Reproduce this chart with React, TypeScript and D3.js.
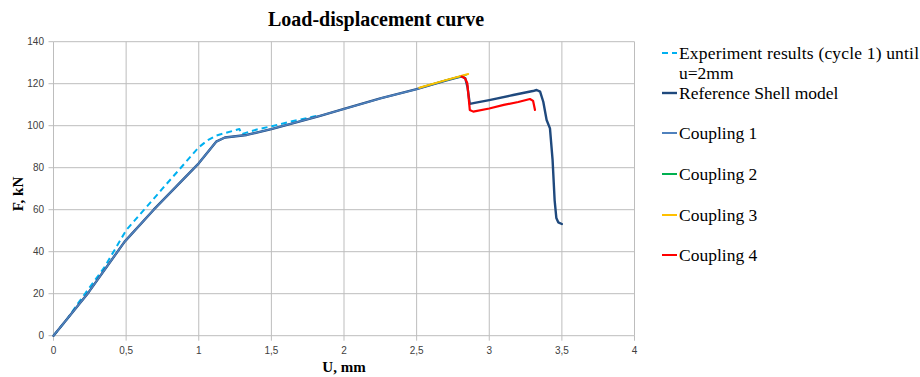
import React from "react";
import * as d3 from "d3";

type P = [number, number];

const xTicks = [0, 0.5, 1, 1.5, 2, 2.5, 3, 3.5, 4];
const xTickLabels = ["0", "0,5", "1", "1,5", "2", "2,5", "3", "3,5", "4"];
const yTicks = [0, 20, 40, 60, 80, 100, 120, 140];

const experiment: P[] = [
  [0, 0], [0.1, 8.5], [0.18, 16.5], [0.35, 32.5], [0.5, 50.2], [0.75, 70], [1.0, 89.7],
  [1.06, 93], [1.12, 95.3], [1.28, 98.4], [1.295, 96], [1.4, 98.2], [1.51, 99.9],
  [1.63, 101.9], [1.82, 104.8],
];

const referenceShell: P[] = [
  [0, 0], [0.24, 20.5], [0.49, 44.8], [0.69, 60], [1.0, 82.1], [1.12, 92.4], [1.18, 94.4],
  [1.33, 95.6], [1.5, 98.4], [1.83, 104.6], [2.0, 108], [2.25, 113], [2.5, 117.4],
  [2.7, 121.5], [2.81, 123.5], [2.835, 122.6], [2.85, 118.5], [2.866, 110.4], [2.9, 110.9],
  [3.0, 112.2], [3.165, 114.6], [3.3, 116.5], [3.326, 117], [3.35, 116.2], [3.372, 111.4],
  [3.395, 102.7], [3.418, 98.7], [3.436, 83.7], [3.45, 64.6], [3.462, 56], [3.475, 54],
  [3.5, 53.2],
];

const coupling1: P[] = [
  [0, 0], [0.24, 20.5], [0.49, 44.8], [0.69, 60], [1.0, 82.1], [1.12, 92.4], [1.18, 94.4],
  [1.33, 95.6], [1.5, 98.4], [1.83, 104.6], [2.0, 108], [2.25, 113], [2.5, 117.4],
  [2.7, 121.5], [2.81, 123.5],
];

const coupling2: P[] = [
  [2.53, 118.3], [2.7, 121.6], [2.84, 124.2],
];

const coupling3: P[] = [
  [2.518, 118.1], [2.7, 121.7], [2.855, 124.6],
];

const coupling4: P[] = [
  [2.81, 123.4], [2.833, 122.6], [2.849, 120.2], [2.866, 107.5], [2.89, 106.7],
  [3.0, 108.2], [3.1, 109.9], [3.2, 111.3], [3.28, 112.7], [3.302, 111.8], [3.315, 107.5],
];

const seriesNames = [
  "Experiment results (cycle 1) until",
  "Reference Shell model",
  "Coupling 1",
  "Coupling 2",
  "Coupling 3",
  "Coupling 4",
];

export default function App() {
  const W = 920, H = 377;
  const x = d3.scaleLinear().domain([0, 4]).range([53.5, 634.5]);
  const y = d3.scaleLinear().domain([0, 140]).range([335.7, 41.7]);
  const line = d3.line<P>().x((d) => x(d[0])).y((d) => y(d[1]));

  const series = [
    { data: experiment, color: "#00B0F0", width: 2, dash: "6,4" },
    { data: referenceShell, color: "#1F497D", width: 2.4, dash: undefined },
    { data: coupling1, color: "#4F81BD", width: 1.6, dash: undefined },
    { data: coupling2, color: "#00B050", width: 1.6, dash: undefined },
    { data: coupling3, color: "#FFC000", width: 2, dash: undefined },
    { data: coupling4, color: "#FF0000", width: 2.2, dash: undefined },
  ];

  const legendY = [53, 93, 133, 174, 215, 255];
  const legendColors = ["#00B0F0", "#1F497D", "#4F81BD", "#00B050", "#FFC000", "#FF0000"];

  const serif = "'Liberation Serif', 'Times New Roman', serif";
  const sans = "'Liberation Sans', Arial, sans-serif";

  return (
    <svg width={W} height={H} style={{ position: "absolute", left: 0, top: 0, background: "#fff" }}>
      <rect width={W} height={H} fill="#fff" />
      <text x={376} y={26} textAnchor="middle" fontFamily={serif} fontWeight="bold" fontSize={20} fill="#000">
        Load-displacement curve
      </text>
      {/* grid */}
      {yTicks.map((t) => (
        <line key={"gy" + t} x1={x(0)} x2={x(4)} y1={y(t)} y2={y(t)} stroke="#BDBDBD" strokeWidth={1} />
      ))}
      {xTicks.map((t) => (
        <line key={"gx" + t} x1={x(t)} x2={x(t)} y1={y(0)} y2={y(140)} stroke="#BDBDBD" strokeWidth={1} />
      ))}
      {/* tick marks */}
      {yTicks.map((t) => (
        <line key={"ty" + t} x1={x(0) - 5} x2={x(0)} y1={y(t)} y2={y(t)} stroke="#BDBDBD" strokeWidth={1} />
      ))}
      {xTicks.map((t) => (
        <line key={"tx" + t} x1={x(t)} x2={x(t)} y1={y(0)} y2={y(0) + 5} stroke="#BDBDBD" strokeWidth={1} />
      ))}
      {yTicks.map((t) => (
        <text key={"ly" + t} x={44} y={y(t)} dy="0.35em" textAnchor="end" fontFamily={sans} fontSize={10} fill="#404040">
          {t}
        </text>
      ))}
      {xTicks.map((t, i) => (
        <text key={"lx" + t} x={x(t)} y={350} dy="0.35em" textAnchor="middle" fontFamily={sans} fontSize={10} fill="#404040">
          {xTickLabels[i]}
        </text>
      ))}
      <text x={344} y={367} dy="0.35em" textAnchor="middle" fontFamily={serif} fontWeight="bold" fontSize={15} fill="#000">
        U, mm
      </text>
      <text transform={`translate(18,194) rotate(-90)`} dy="0.35em" textAnchor="middle" fontFamily={serif} fontWeight="bold" fontSize={15} fill="#000">
        F, kN
      </text>
      {/* series */}
      {series.map((s, i) => (
        <path key={"s" + i} d={line(s.data) || ""} fill="none" stroke={s.color} strokeWidth={s.width}
          strokeDasharray={s.dash} strokeLinejoin="round" strokeLinecap={s.dash ? "butt" : "round"} />
      ))}
      {/* legend */}
      {seriesNames.map((n, i) => (
        <g key={"lg" + i}>
          <line x1={662} x2={677} y1={legendY[i]} y2={legendY[i]} stroke={legendColors[i]}
            strokeWidth={i === 1 ? 2.4 : 2} strokeDasharray={i === 0 ? "6,4" : undefined} />
          <text x={679} y={legendY[i]} dy="0.33em" fontFamily={serif} fontSize={17.5} fill="#000"
            textLength={i === 0 ? 240 : undefined} lengthAdjust={i === 0 ? "spacing" : undefined}>{n}</text>
        </g>
      ))}
      <text x={679} y={73} dy="0.33em" fontFamily={serif} fontSize={17.5} fill="#000">u=2mm</text>
    </svg>
  );
}
